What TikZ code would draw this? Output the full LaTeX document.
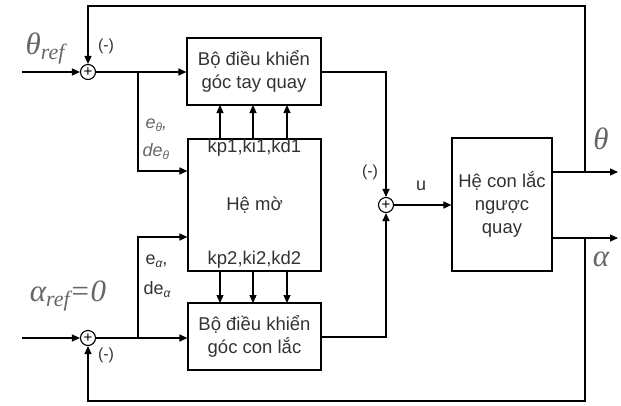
\documentclass[tikz,border=0pt]{standalone}
\usepackage{fontspec}
\setmainfont{Liberation Sans}
\newfontfamily\serifit{Liberation Serif}[ItalicFont={Liberation Serif Italic}]
\usetikzlibrary{arrows.meta}
\definecolor{txt}{HTML}{333333}
\definecolor{lbl}{HTML}{666666}
\newcommand{\bigsym}[2]{{\serifit\itshape\fontsize{31}{31}\selectfont #1}\raisebox{-5pt}{\serifit\itshape\fontsize{22}{22}\selectfont #2}}
\newcommand{\subsym}[1]{\raisebox{-3pt}{\itshape\fontsize{12}{12}\selectfont #1}}
\begin{document}
\begin{tikzpicture}[x=1pt,y=-1pt,
  line width=1.2pt,
  >={Triangle[length=8pt,width=7pt]},
  blk/.style={draw,line width=1.2pt,inner sep=0pt,align=center,text=txt,font=\fontsize{18.5}{23}\selectfont},
  sumc/.style={draw,circle,line width=1.1pt,minimum size=15pt,inner sep=0pt,font=\fontsize{15}{15}\selectfont},
  sm/.style={text=txt,font=\fontsize{16}{16}\selectfont,inner sep=0pt},
  gl/.style={text=lbl,inner sep=0pt},
  el/.style={inner sep=0pt,anchor=west,font=\fontsize{18}{18}\selectfont}]
\useasboundingbox (0,0) rectangle (621,405);
% blocks
\node[blk,minimum width=134pt,minimum height=67pt] (c1) at (254,71.5) {Bộ điều khiển\\góc tay quay};
\node[blk,minimum width=133pt,minimum height=132pt] (fz) at (254.5,205) {};
\node[blk,minimum width=133pt,minimum height=67pt] (c2) at (254.5,336.5) {Bộ điều khiển\\góc con lắc};
\node[blk,minimum width=100pt,minimum height=133pt] (pl) at (502,204.5) {Hệ con lắc\\ngược\\quay};
\node[text=txt,font=\fontsize{18.5}{18.5}\selectfont,inner sep=0pt] (fzt) at (254.5,148) {kp1,ki1,kd1};
\node[text=txt,font=\fontsize{18.5}{18.5}\selectfont,inner sep=0pt] (fzm) at (254.5,205) {Hệ mờ};
\node[text=txt,font=\fontsize{18.5}{18.5}\selectfont,inner sep=0pt] (fzb) at (254.5,260) {kp2,ki2,kd2};
% sums
\node[sumc] (s1) at (88,72) {+};
\node[sumc] (s2) at (88,338) {+};
\node[sumc] (s3) at (386,205) {+};
% coordinates
\coordinate (in1) at (22,72);
\coordinate (in2) at (22,338);
\coordinate (b1) at (138,72);
\coordinate (b1d) at (138,171);
\coordinate (b2) at (138,338);
\coordinate (b2u) at (138,237);
\coordinate (o1) at (386,72);
\coordinate (o2) at (386,337);
\coordinate (th) at (585,172);
\coordinate (thE) at (618,172);
\coordinate (al) at (585,238);
\coordinate (alE) at (618,238);
\coordinate (tr) at (585,6);
\coordinate (tl) at (88,6);
\coordinate (br) at (585,401);
\coordinate (bl) at (88,401);
% connectors
\draw[->] (in1) -- (s1);
\draw[->] (in2) -- (s2);
\draw[->] (s1) -- (c1.west|-s1);
\draw[->] (s2) -- (c2.west|-s2);
\draw[->] (b1) -- (b1d) -- (fz.west|-b1d);
\draw[->] (b2) -- (b2u) -- (fz.west|-b2u);
\draw[->] (c1.east|-o1) -- (o1) -- (s3);
\draw[->] (c2.east|-o2) -- (o2) -- (s3);
\draw[->] (s3) -- (pl.west|-s3);
\draw[->] (pl.east|-th) -- (thE);
\draw[->] (pl.east|-al) -- (alE);
\draw[->] (th) -- (tr) -- (tl) -- (s1);
\draw[->] (al) -- (br) -- (bl) -- (s2);
\foreach \x in {220,253,287}{
  \draw[->] (\x,139) -- (\x,105);
  \draw[->] (\x,271) -- (\x,303);
}
% labels
\node[gl] (lth) at (45,49) {\bigsym{θ}{ref}};
\node[gl] (lal) at (68,296) {\bigsym{α}{ref}{\serifit\itshape\fontsize{31}{31}\selectfont =0}};
\node[gl] (lthO) at (601,141) {\bigsym{θ}{}};
\node[gl] (lalO) at (601,262) {\bigsym{α}{}};
\node[sm] (m1) at (106,46) {(-)};
\node[sm] (m2) at (106,355) {(-)};
\node[sm] (m3) at (370,172) {(-)};
\node[sm,font=\fontsize{18}{18}\selectfont] (u) at (421,186) {u};
\node[el,text=lbl] (e1) at (145,125) {\itshape e\subsym{θ},};
\node[el,text=lbl] (e2) at (142,152) {\itshape de\subsym{θ}};
\node[el,text=txt] (e3) at (145,261) {e\subsym{α},};
\node[el,text=txt] (e4) at (143,290) {de\subsym{α}};
\end{tikzpicture}
\end{document}
